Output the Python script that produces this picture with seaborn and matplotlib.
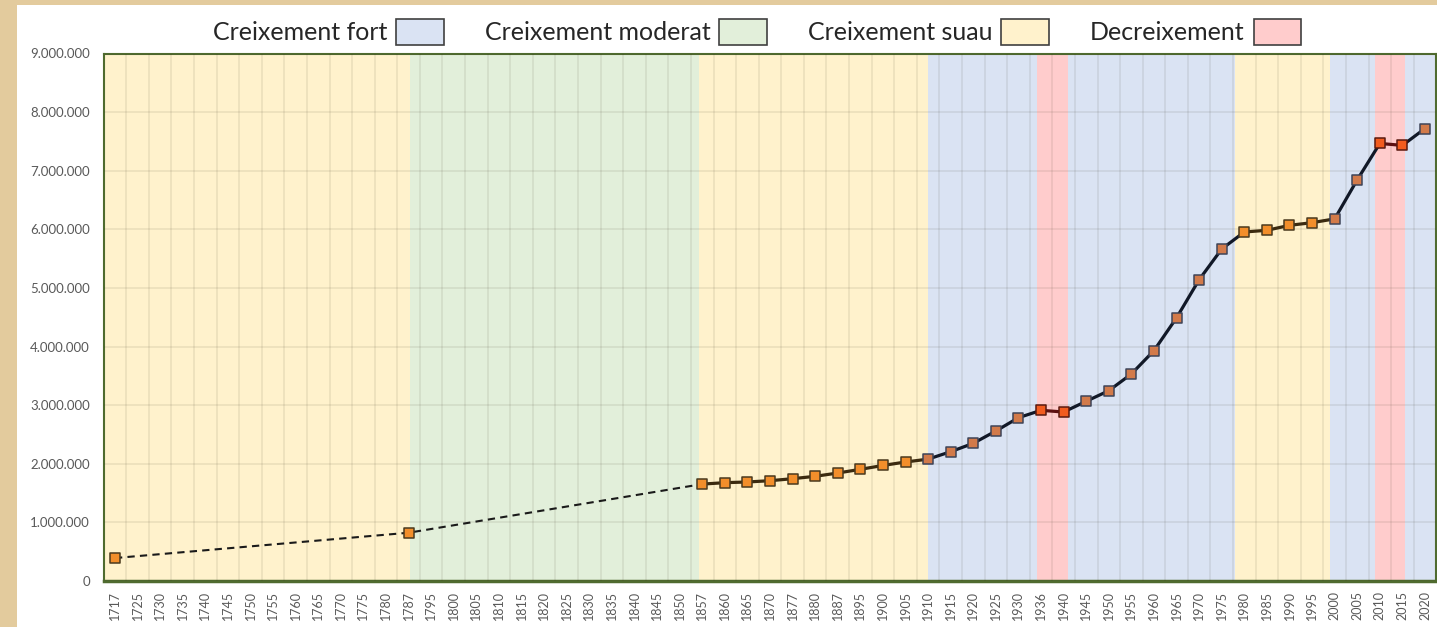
"""
Evolucio de la poblacio de Catalunya (1717-2020) amb els periodes de creixement.
"""

import numpy as np
import pandas as pd
import matplotlib
matplotlib.use("Agg")
import matplotlib.pyplot as plt
import seaborn as sns
from matplotlib.patches import Patch, Rectangle
from matplotlib.ticker import FuncFormatter, FixedLocator

# ----------------------------------------------------------------
# Data
# ----------------------------------------------------------------
year_labels = [
    "1717", "1725", "1730", "1735", "1740", "1745", "1750", "1755", "1760",
    "1765", "1770", "1775", "1780", "1787", "1795", "1800", "1805", "1810",
    "1815", "1820", "1825", "1830", "1835", "1840", "1845", "1850", "1857",
    "1860", "1865", "1870", "1877", "1880", "1887", "1895", "1900", "1905",
    "1910", "1915", "1920", "1925", "1930", "1936", "1940", "1945", "1950",
    "1955", "1960", "1965", "1970", "1975", "1980", "1985", "1990", "1995",
    "2000", "2005", "2010", "2015", "2020",
]

# old census estimates (joined by a dashed line)
old_years = ["1717", "1787", "1857"]
old_population = [390000, 822000, 1652000]

# continuous series
census_years = [
    "1857", "1860", "1865", "1870", "1877", "1880", "1887", "1895", "1900",
    "1905", "1910", "1915", "1920", "1925", "1930", "1936", "1940", "1945",
    "1950", "1955", "1960", "1965", "1970", "1975", "1980", "1985", "1990",
    "1995", "2000", "2005", "2010", "2015", "2020",
]
census_population = [
    1652000, 1676000, 1688000, 1710000, 1744000, 1785000, 1841000, 1904000,
    1970000, 2029000, 2078000, 2205000, 2348000, 2558000, 2785000, 2911000,
    2882000, 3065000, 3246000, 3531000, 3930000, 4490000, 5140000, 5664000,
    5954000, 5983000, 6068000, 6113000, 6178000, 6845000, 7465000, 7432000,
    7720000,
]

# growth periods (in years)
period_kind = ["suau", "moderat", "suau", "fort", "dec", "fort", "suau", "fort", "dec", "fort"]
period_start = [1717, 1787.5, 1856, 1910, 1935, 1941, 1978, 1999, 2009, 2015.5]
period_end = [1787.5, 1856, 1910, 1935, 1941, 1978, 1999, 2009, 2015.5, 2020]

legend_kinds = ["fort", "moderat", "suau", "dec"]
legend_names = ["Creixement fort", "Creixement moderat", "Creixement suau", "Decreixement"]

band_colors = {"fort": "#DAE3F3", "moderat": "#E2EFDA", "suau": "#FFF2CC", "dec": "#FFCCCC"}
marker_fill = {"fort": "#D27A4A", "moderat": "#F28E2B", "suau": "#F28E2B", "dec": "#F25C1F"}
marker_edge = {"fort": "#3E4458", "moderat": "#4A3A1E", "suau": "#4A3A1E", "dec": "#5A1A10"}
line_colors = {"fort": "#111827", "moderat": "#3B2A0F", "suau": "#3B2A0F", "dec": "#5C1010"}

# ----------------------------------------------------------------
# Helpers: category positions
# ----------------------------------------------------------------
label_years = np.array([int(y) for y in year_labels], dtype=float)
label_pos = np.arange(len(year_labels), dtype=float)


def year_to_pos(year):
    return float(np.interp(year, label_years, label_pos))


band_lo = [year_to_pos(s) for s in period_start]
band_hi = [year_to_pos(e) for e in period_end]
band_lo[0] = -0.5
band_hi[-1] = len(year_labels) - 0.5


def kind_at(pos):
    for k, lo, hi in zip(period_kind, band_lo, band_hi):
        if lo <= pos < hi:
            return k
    return period_kind[-1]


pts = pd.DataFrame({"label": census_years, "pop": census_population})
pts["x"] = [year_labels.index(y) for y in census_years]
pts["kind"] = [kind_at(x) for x in pts["x"]]

old = pd.DataFrame({"label": old_years, "pop": old_population})
old["x"] = [year_labels.index(y) for y in old_years]
old["kind"] = [kind_at(x) for x in old["x"]]

# line segments coloured by the band they cross
seg_rows = []
for i in range(len(pts) - 1):
    a, b = pts.iloc[i], pts.iloc[i + 1]
    k = kind_at((a["x"] + b["x"]) / 2)
    seg_rows.append({"seg": i, "x": a["x"], "pop": a["pop"], "kind": k})
    seg_rows.append({"seg": i, "x": b["x"], "pop": b["pop"], "kind": k})
segs = pd.DataFrame(seg_rows)

# ----------------------------------------------------------------
# Plot
# ----------------------------------------------------------------
sns.set_theme(style="white")
plt.rcParams["font.family"] = ["Lato", "DejaVu Sans"]

W, H = 1437, 627
fig = plt.figure(figsize=(W / 100, H / 100), dpi=100, facecolor="#E3CB9D")
fig.patches.append(Rectangle((17 / W, 0), 1, 1 - 5 / H, transform=fig.transFigure,
                             facecolor="white", edgecolor="none", zorder=-5))

ax = fig.add_axes([103.7 / W, 46.1 / H, (1436.3 - 103.7) / W, (580.9 - 53.5) / H])
ax.set_facecolor("white")

for k, lo, hi in zip(period_kind, band_lo, band_hi):
    ax.axvspan(lo, hi, color=band_colors[k], lw=0, zorder=0)

# gridlines at category boundaries and every million
ax.xaxis.set_minor_locator(FixedLocator(np.arange(len(year_labels) - 1) + 0.5))
ax.grid(axis="x", which="minor", color="#3A3020", alpha=0.085, lw=1.4, zorder=1)
ax.grid(axis="y", which="major", color="#3A3020", alpha=0.085, lw=1.4, zorder=1)
ax.set_axisbelow(False)

sns.lineplot(data=old, x="x", y="pop", color="#1A1A1A", lw=1.5,
             linestyle=(0, (3.5, 2.5)), ax=ax, zorder=3, legend=False)
sns.lineplot(data=segs, x="x", y="pop", units="seg", hue="kind", palette=line_colors,
             estimator=None, sort=False, lw=2.3, ax=ax, zorder=4, legend=False)

all_pts = pd.concat([old, pts]).drop_duplicates("label")
for k, grp in all_pts.groupby("kind"):
    sns.scatterplot(data=grp, x="x", y="pop", marker="s", s=62, color=marker_fill[k],
                    edgecolor=marker_edge[k], linewidth=1.1, ax=ax, zorder=5, legend=False)

ax.set_xlim(-0.5, len(year_labels) - 0.5)
ax.set_ylim(0, 9000000)
ax.set_xticks(label_pos)
ax.set_xticklabels(year_labels, rotation=90, fontsize=9, color="#595959")
ax.set_yticks(np.arange(0, 9000001, 1000000))
ax.yaxis.set_major_formatter(FuncFormatter(lambda v, p: f"{v:,.0f}".replace(",", ".")))
ax.tick_params(axis="y", labelsize=9.5, labelcolor="#595959", length=0, pad=10)
ax.tick_params(axis="x", length=0, pad=7)
ax.tick_params(axis="x", which="minor", length=0)
ax.set_xlabel("")
ax.set_ylabel("")

for side in ["left", "right", "top"]:
    ax.spines[side].set_color("#4F6B2F")
    ax.spines[side].set_linewidth(1.5)
ax.spines["bottom"].set_color("#4F6B2F")
ax.spines["bottom"].set_linewidth(2.5)

handles = [Patch(facecolor=band_colors[k], edgecolor="#404040", linewidth=1.2, label=n)
           for k, n in zip(legend_kinds, legend_names)]
fig.legend(handles=handles, loc="center", bbox_to_anchor=(757 / W, 1 - 32 / H), ncol=4,
           frameon=False, markerfirst=False, fontsize=18, handlelength=1.9,
           handleheight=1.2, handletextpad=0.35, columnspacing=1.65)

fig.savefig("out.png", dpi=100, facecolor=fig.get_facecolor())
